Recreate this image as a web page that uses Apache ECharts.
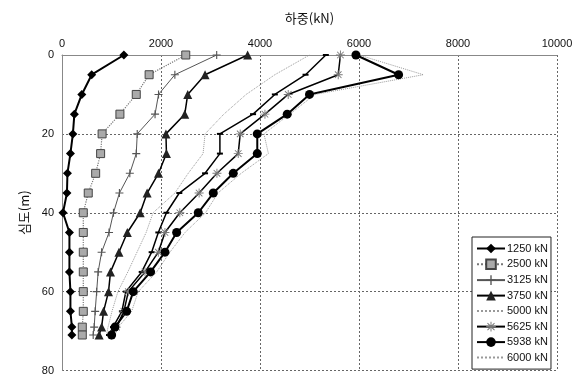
<!DOCTYPE html>
<html>
<head>
<meta charset="utf-8">
<script src="https://cdn.jsdelivr.net/npm/echarts@6/dist/echarts.min.js"></script>
<style>html,body{margin:0;padding:0;background:#fff}#c{width:582px;height:376px}</style>
</head>
<body>
<div id="c"></div>
<script>
var depths = [0,5,10,15,20,25,30,35,40,45,50,55,60,65,69,71];
var s1250 = [1250,600,400,250,220,170,110,100,20,150,150,150,170,170,200,200];
var s2500 = [2500,1760,1500,1170,810,780,680,530,430,430,430,430,430,430,410,410];
var s3125 = [3125,2280,1950,1880,1520,1500,1370,1160,1040,950,800,730,700,670,650,630];
var s3750 = [3750,2890,2540,2480,2100,2110,1950,1720,1580,1320,1150,980,940,840,800,750];
var s5000 = [5000,4300,3720,3270,2890,2850,2550,2280,1840,1700,1515,1330,1130,1010,930,900];
var sExtra = [5330,4920,4300,3860,3190,3190,2890,2370,2110,1946,1811,1610,1290,1210,1030,950];
var s5625 = [5625,5580,4570,4100,3600,3560,3130,2770,2380,2080,1946,1677,1340,1250,1100,1000];
var s5938 = [5938,6800,5000,4550,3945,3945,3460,3056,2753,2316,2080,1790,1440,1306,1070,1003];
var s6000 = [6000,7300,5110,4600,4080,4170,3620,3150,2900,2485,2180,1913,1540,1407,1137,1070];
var legendNames = ['1250 kN','2500 kN','3125 kN','3750 kN','5000 kN','5625 kN','5938 kN','6000 kN'];
var xTicks = [0,2000,4000,6000,8000,10000];
var yTicks = [0,20,40,60,80];

function pairs(vals){ return vals.map(function(v,i){ return [v, depths[i]]; }); }

var plusPath = 'path://M4.3,0h1.4v10h-1.4z M0,4.3h10v1.4h-10z';
var starPath = 'path://M4.5,0h1v10h-1z M0,4.5h10v1h-10z M1,1.7L1.7,1L9,8.3L8.3,9z M1,8.3L8.3,1L9,1.7L1.7,9z';
var dashPath = 'path://M0,0h10v2h-10z';

var series = [
  {name:'1250 kN', data:pairs(s1250), symbol:'diamond', symbolSize:9,
   lineStyle:{color:'#000',width:2}, itemStyle:{color:'#000'}},
  {name:'2500 kN', data:pairs(s2500), symbol:'rect', symbolSize:8,
   lineStyle:{color:'#777',width:1.2,type:'dotted'}, itemStyle:{color:'#aaa',borderColor:'#444',borderWidth:1}},
  {name:'3125 kN', data:pairs(s3125), symbol:plusPath, symbolSize:8,
   lineStyle:{color:'#555',width:1}, itemStyle:{color:'#555'}},
  {name:'3750 kN', data:pairs(s3750), symbol:'triangle', symbolSize:9,
   lineStyle:{color:'#000',width:1.5}, itemStyle:{color:'#222'}},
  {name:'5000 kN', data:pairs(s5000), symbol:'none',
   lineStyle:{color:'#999',width:1,type:'dotted'}, itemStyle:{color:'#999'}},
  {name:'extra', data:pairs(sExtra), symbol:dashPath, symbolSize:[6,2],
   lineStyle:{color:'#000',width:1.5}, itemStyle:{color:'#000'}},
  {name:'5625 kN', data:pairs(s5625), symbol:starPath, symbolSize:9,
   lineStyle:{color:'#000',width:1.5}, itemStyle:{color:'#777'}},
  {name:'5938 kN', data:pairs(s5938), symbol:'circle', symbolSize:9,
   lineStyle:{color:'#000',width:2}, itemStyle:{color:'#000'}},
  {name:'6000 kN', data:pairs(s6000), symbol:'none',
   lineStyle:{color:'#999',width:1,type:'dotted'}, itemStyle:{color:'#999'}}
].map(function(s){ s.type='line'; s.showSymbol = s.symbol!=='none'; s.animation=false; s.z = 3; return s; });

var legendData = legendNames.map(function(n){
  if (n === '5000 kN' || n === '6000 kN') return {name:n, itemStyle:{opacity:0}};
  return {name:n};
});

var chart = echarts.init(document.getElementById('c'));
chart.setOption({
  backgroundColor:'#fff',
  animation:false,
  grid:{left:62, top:55, right:25, bottom:4, show:false},
  xAxis:{
    type:'value', position:'top', min:xTicks[0], max:xTicks[xTicks.length-1], interval:2000,
    name:'하중(kN)', nameLocation:'middle', nameGap:30,
    nameTextStyle:{fontFamily:'Noto Sans CJK KR', fontSize:13, color:'#111'},
    axisLine:{show:true, lineStyle:{color:'#888', width:1}},
    axisTick:{show:false},
    axisLabel:{fontFamily:'Liberation Sans', fontSize:11, color:'#111', margin:6,
      formatter:function(v){ return String(v); }},
    splitLine:{show:true, lineStyle:{color:'#666', type:[2,2], width:1}}
  },
  yAxis:{
    type:'value', inverse:true, min:yTicks[0], max:yTicks[yTicks.length-1], interval:20,
    name:'심도(m)', nameLocation:'middle', nameGap:31,
    nameTextStyle:{fontFamily:'Noto Sans CJK KR', fontSize:13, color:'#111'},
    axisLine:{show:true, lineStyle:{color:'#888', width:1}},
    axisTick:{show:false},
    axisLabel:{fontFamily:'Liberation Sans', fontSize:11, color:'#111', margin:8,
      formatter:function(v){ return String(v); }},
    splitLine:{show:true, lineStyle:{color:'#666', type:[2,2], width:1}}
  },
  legend:{
    data:legendData, orient:'vertical', left:472, top:237,
    backgroundColor:'#fff', borderColor:'#222', borderWidth:1,
    padding:[6,3,6,4], itemGap:4.5, itemWidth:28, itemHeight:12,
    textStyle:{fontFamily:'Liberation Sans', fontSize:11, color:'#111', padding:[0,0,0,-3]}
  },
  series:series
});
</script>
</body>
</html>
